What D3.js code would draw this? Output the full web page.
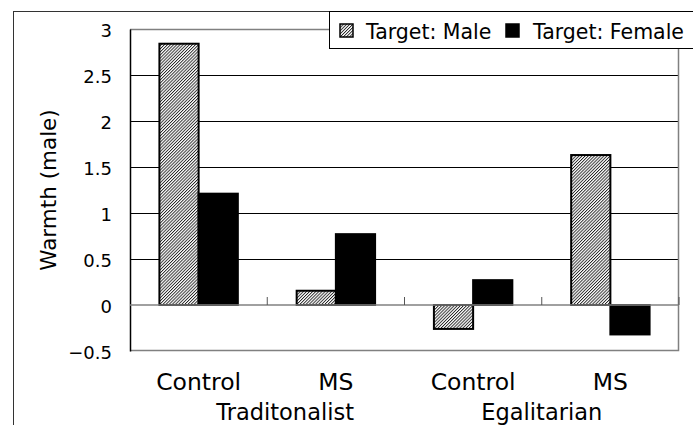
<!DOCTYPE html>
<html><head><meta charset="utf-8">
<script src="https://cdn.jsdelivr.net/npm/d3@7"></script>
<style>body{margin:0;background:#fff}text{font-family:"DejaVu Sans",sans-serif;fill:#000}</style>
</head><body><svg id="c" width="693" height="425"></svg>
<script>
const categories = ["Control","MS","Control","MS"];
const groups = ["\u00a0\u00a0\u00a0\u00a0\u00a0Traditonalist","Egalitarian"];
const seriesNames = ["Target: Male","Target: Female"];
const maleValues = [2.84, 0.155, -0.26, 1.63];
const femaleValues = [1.21, 0.77, 0.27, -0.32];
const yTicks = [-0.5, 0, 0.5, 1, 1.5, 2, 2.5, 3];
const yLabel = "Warmth (male)";

const svg = d3.select("#c");
const defs = svg.append("defs");
const pat = defs.append("pattern").attr("id","hatch").attr("patternUnits","userSpaceOnUse")
  .attr("width",2.2).attr("height",2.2).attr("patternTransform","rotate(45)");
pat.append("rect").attr("width",2.2).attr("height",2.2).attr("fill","#fff");
pat.append("rect").attr("width",0.9).attr("height",2.2).attr("fill","#222");

const L=130, R=679, T=29, B=351;
const x = d3.scaleBand().domain(d3.range(categories.length)).range([L,R]).paddingInner(0).paddingOuter(0);
const y = d3.scaleLinear().domain([-0.5,3]).range([B,T]);
const inner = d3.scaleBand().domain([0,1]).range([0,x.bandwidth()]).paddingInner(0).paddingOuter(0.75);

// outer border
svg.append("rect").attr("x",13.5).attr("y",11.5).attr("width",700).attr("height",430).attr("fill","none").attr("stroke","#333").attr("stroke-width",1);

// gridlines
svg.append("g").selectAll("line").data(yTicks.filter(t=>t!==0 && t!==-0.5 && t!==3)).join("line")
  .attr("x1",L).attr("x2",R).attr("y1",d=>Math.round(y(d))+0.5).attr("y2",d=>Math.round(y(d))+0.5)
  .attr("stroke","#000").attr("stroke-width",1);
// plot border (gray)
svg.append("path").attr("d",`M${L},${T+0.5}H${R-0.5}V${B-0.5}H${L}`).attr("fill","none").attr("stroke","#808080").attr("stroke-width",1.5);

// y axis
const yAxis = svg.append("g").attr("transform",`translate(${L},0)`)
  .call(d3.axisLeft(y).tickValues(yTicks).tickSize(0).tickPadding(18).tickFormat(d=>d<0?"\u2212"+Math.abs(d):String(d)));
yAxis.select(".domain").attr("stroke","#000").attr("stroke-width",1.5);
yAxis.selectAll("text").attr("font-size",18).attr("font-family","DejaVu Sans").attr("dy","0.42em");

// bars
const data = categories.map((c,i)=>({i, vals:[maleValues[i], femaleValues[i]]}));
const bars = svg.append("g");
data.forEach(d=>{
  d.vals.forEach((v,s)=>{
    const x0 = x(d.i)+inner(s);
    bars.append("rect").attr("x",x0).attr("width",inner.bandwidth())
      .attr("y",y(Math.max(0,v))).attr("height",Math.abs(y(v)-y(0)))
      .attr("fill", s===0?"url(#hatch)":"#000").attr("stroke","#000").attr("stroke-width",2);
  });
});

// zero line and category ticks
svg.append("line").attr("x1",L).attr("x2",R).attr("y1",y(0)).attr("y2",y(0)).attr("stroke","#808080").attr("stroke-width",1.5);
svg.append("g").selectAll("line").data(d3.range(1,categories.length+1)).join("line")
  .attr("x1",i=>i<categories.length?x(i):R).attr("x2",i=>i<categories.length?x(i):R)
  .attr("y1",y(0)).attr("y2",y(0)-8).attr("stroke","#555").attr("stroke-width",1);

// category labels
svg.append("g").selectAll("text").data(categories).join("text")
  .attr("x",(d,i)=>x(i)+x.bandwidth()/2).attr("y",390).attr("text-anchor","middle")
  .attr("font-size",23.5).text(d=>d);
svg.append("g").selectAll("text").data(groups).join("text")
  .attr("x",(d,i)=>x(i*2)+x.bandwidth()).attr("y",420).attr("text-anchor","middle")
  .attr("font-size",22.5).text(d=>d);

// y label
svg.append("text").attr("transform","translate(56,190) rotate(-90)").attr("text-anchor","middle")
  .attr("font-size",21.5).text(yLabel);

// legend
const lg = svg.append("g");
lg.append("rect").attr("x",329.5).attr("y",11.5).attr("width",400).attr("height",37).attr("fill","#fff").attr("stroke","#000").attr("stroke-width",1);
const items = [{name:seriesNames[0],fill:"url(#hatch)",sx:340,tx:366},{name:seriesNames[1],fill:"#000",sx:506,tx:533}];
items.forEach(it=>{
  lg.append("rect").attr("x",it.sx).attr("y",24).attr("width",13).attr("height",13).attr("fill",it.fill).attr("stroke","#000").attr("stroke-width",1.5);
  lg.append("text").attr("x",it.tx).attr("y",39).attr("font-size",20.5).text(it.name);
});
</script></body></html>
